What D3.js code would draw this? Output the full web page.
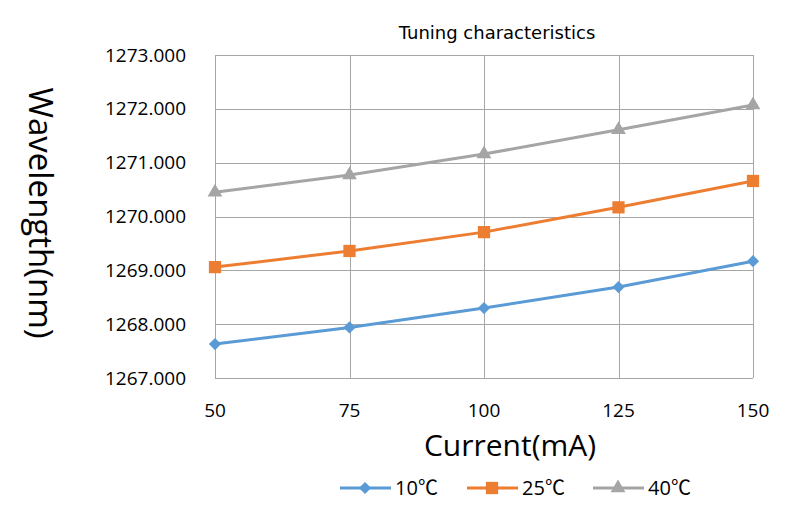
<!DOCTYPE html>
<html>
<head>
<meta charset="utf-8">
<script src="https://cdn.jsdelivr.net/npm/d3@7"></script>
<style>
  body { margin: 0; background: #fff; }
  text { font-family: "Open Sans", "Noto Sans", sans-serif; fill: #000; }
</style>
</head>
<body>
<div id="chart"></div>
<script>
// chart data
let currents = [50, 75, 100, 125, 150];
let seriesNames = ["10℃", "25℃", "40℃"];
let wl10 = [1267.63, 1267.94, 1268.30, 1268.69, 1269.17];
let wl25 = [1269.06, 1269.36, 1269.71, 1270.17, 1270.66];
let wl40 = [1270.45, 1270.77, 1271.16, 1271.61, 1272.07];
let yTicks = [1267, 1268, 1269, 1270, 1271, 1272, 1273];

let width = 800, height = 505;
let margin = {left: 215, right: 47, top: 55, bottom: 127};

let svg = d3.select("#chart")
    .append("svg")
    .attr("width", width)
    .attr("height", height);

let g = svg.append("g")
    .attr("transform", "translate(" + margin.left + "," + margin.top + ")");

let w = width - margin.left - margin.right;
let h = height - margin.top - margin.bottom;

let x = d3.scaleLinear().domain([50, 150]).range([0, w]);
let y = d3.scaleLinear().domain([1267, 1273]).range([h, 0]);

// grid
g.selectAll(".hgrid").data(yTicks).enter()
    .append("line")
    .attr("x1", 0).attr("x2", w)
    .attr("y1", d => Math.round(y(d)) + 0.5).attr("y2", d => Math.round(y(d)) + 0.5)
    .attr("stroke", "#a6a6a6").attr("stroke-width", 1);

g.selectAll(".vgrid").data(currents).enter()
    .append("line")
    .attr("y1", 0).attr("y2", h)
    .attr("x1", d => Math.round(x(d)) + 0.5).attr("x2", d => Math.round(x(d)) + 0.5)
    .attr("stroke", "#a6a6a6").attr("stroke-width", 1);

// tick labels
g.selectAll(".ylab").data(yTicks).enter()
    .append("text")
    .attr("x", -29)
    .attr("y", d => y(d))
    .attr("dy", "0.35em")
    .style("text-anchor", "end")
    .style("font-size", "19px")
    .text(d => d3.format(".3f")(d));

g.selectAll(".xlab").data(currents).enter()
    .append("text")
    .attr("x", d => x(d))
    .attr("y", h + 32)
    .attr("dy", "0.35em")
    .style("text-anchor", "middle")
    .style("font-size", "19px")
    .text(d => d);

// titles
svg.append("text")
    .attr("x", 497).attr("y", 39)
    .style("text-anchor", "middle")
    .style("font-family", "DejaVu Sans")
    .style("font-size", "18px")
    .text("Tuning characteristics");

svg.append("text")
    .attr("x", 510).attr("y", 456)
    .style("text-anchor", "middle")
    .style("font-size", "30px")
    .text("Current(mA)");

svg.append("text")
    .attr("transform", "translate(29,213) rotate(90)")
    .style("text-anchor", "middle")
    .style("font-size", "33px")
    .text("Wavelength(nm)");

// series
let series = [
    {name: seriesNames[0], values: wl10, color: "#5b9bd5", symbol: d3.symbolSquare, size: 75, rot: 45},
    {name: seriesNames[1], values: wl25, color: "#ed7d31", symbol: d3.symbolSquare, size: 150, rot: 0},
    {name: seriesNames[2], values: wl40, color: "#a5a5a5", symbol: d3.symbolTriangle, size: 95, rot: 0}
];

let line = d3.line()
    .x((d, i) => x(currents[i]))
    .y(d => y(d));

series.forEach(function(s) {
    g.append("path")
        .attr("d", line(s.values))
        .attr("fill", "none")
        .attr("stroke", s.color)
        .attr("stroke-width", 3);
    g.selectAll(null).data(s.values).enter()
        .append("path")
        .attr("d", d3.symbol().type(s.symbol).size(s.size))
        .attr("transform", (d, i) => "translate(" + x(currents[i]) + "," + y(d) + ") rotate(" + s.rot + ")")
        .attr("fill", s.color);
});

// legend
let legend = svg.append("g").attr("transform", "translate(340,488)");
let legX = [0, 127, 253];
series.forEach(function(s, i) {
    let lg = legend.append("g").attr("transform", "translate(" + legX[i] + ",0)");
    lg.append("line")
        .attr("x1", 0).attr("x2", 51)
        .attr("stroke", s.color).attr("stroke-width", 3);
    lg.append("path")
        .attr("d", d3.symbol().type(s.symbol).size(s.size))
        .attr("transform", "translate(25,0) rotate(" + s.rot + ")")
        .attr("fill", s.color);
    let t = lg.append("text")
        .attr("x", 55).attr("dy", "0.35em")
        .style("font-size", "20px");
    t.append("tspan").text(s.name.slice(0, -1));
    t.append("tspan").style("font-family", "Noto Sans CJK SC").text(s.name.slice(-1));
});
</script>
</body>
</html>
